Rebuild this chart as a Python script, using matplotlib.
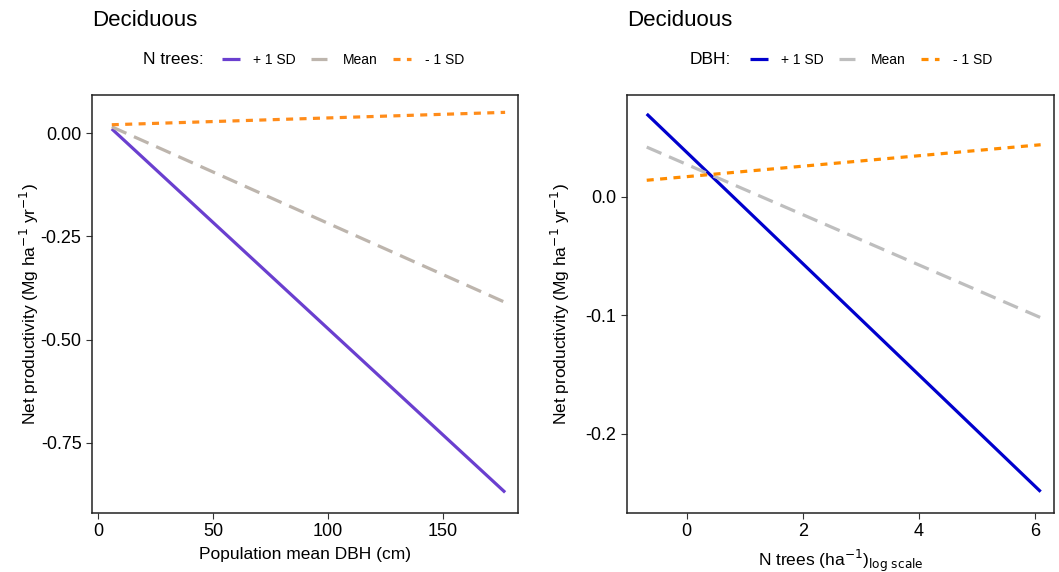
import matplotlib.pyplot as plt

plt.rcParams['font.family'] = ['Liberation Sans', 'DejaVu Sans']

# left panel: productivity vs population mean DBH, by N trees level
dbh_x = [6, 177]
dbh_plus = [0.01, -0.87]
dbh_mean = [0.015, -0.41]
dbh_minus = [0.02, 0.05]

# right panel: productivity vs N trees (log scale), by DBH level
ntree_x = [-0.69, 6.1]
ntree_plus = [0.070, -0.249]
ntree_mean = [0.042, -0.102]
ntree_minus = [0.014, 0.044]

labels = ['+ 1 SD', 'Mean', '- 1 SD']
ylab = r'Net productivity (Mg ha$^{-1}$ yr$^{-1}$)'

fig = plt.figure(figsize=(10.59, 5.72), dpi=100)
ax1 = fig.add_axes([92/1059, 1-513/572, 426/1059, 418/572])
ax2 = fig.add_axes([627/1059, 1-513/572, 427/1059, 418/572])


def draw(ax, x, ys, colors, xlim, ylim, xticks, yticks, yfmt, xlabel, legtitle, leg_x, leg_off):
    styles = ['-', (0, (5, 2.6)), (0, (2.2, 2.0))]
    handles = []
    for y, c, ls, lab in zip(ys, colors, styles, labels):
        h, = ax.plot(x, y, color=c, lw=2.3, ls=ls, label=lab, solid_capstyle='butt')
        handles.append(h)
    ax.set_xlim(xlim)
    ax.set_ylim(ylim)
    ax.set_xticks(xticks)
    ax.set_yticks(yticks)
    ax.set_yticklabels([yfmt.format(v) for v in yticks])
    ax.tick_params(direction='out', length=4, width=0.8, colors='#333333',
                   labelcolor='black', labelsize=13)
    for s in ax.spines.values():
        s.set_linewidth(1.1)
        s.set_color('#222222')
    ax.set_xlabel(xlabel, fontsize=12.5, labelpad=5)
    ax.set_ylabel(ylab, fontsize=12.5, labelpad=6)
    bb = ax.get_position()
    ax.text(0.0, (1 - 20/572 - bb.y0) / bb.height, 'Deciduous',
            transform=ax.transAxes, fontsize=16, va='center')
    fig.text(leg_x, 1 - 60/572, legtitle, fontsize=12.5, va='center')
    ax.legend(handles=handles, ncol=3, frameon=False, fontsize=10,
              handlelength=1.3, handletextpad=1.0, columnspacing=1.1,
              loc='center left', bbox_to_anchor=(leg_x + leg_off/1059, 1 - 60/572),
              bbox_transform=fig.transFigure)


draw(ax1, dbh_x, [dbh_plus, dbh_mean, dbh_minus],
     ['#6A3FCF', '#BDB5AD', '#FF8C1A'],
     (-2.6, 182.6), (-0.920, 0.092), [0, 50, 100, 150],
     [0.0, -0.25, -0.5, -0.75], '{:.2f}',
     'Population mean DBH (cm)', 'N trees:', 143/1059, 66)
draw(ax2, ntree_x, [ntree_plus, ntree_mean, ntree_minus],
     ['#0000CD', '#BEBEBE', '#FF8C00'],
     (-1.03, 6.33), (-0.267, 0.086), [0, 2, 4, 6],
     [0.0, -0.1, -0.2], '{:.1f}',
     r'N trees (ha$^{-1}$)$_{\mathrm{log\ scale}}$', 'DBH:', 690/1059, 47)

ax1.yaxis.set_label_coords(-0.12, 0.5)
ax2.yaxis.set_label_coords(-0.128, 0.5)

fig.savefig('out.png', dpi=100)
